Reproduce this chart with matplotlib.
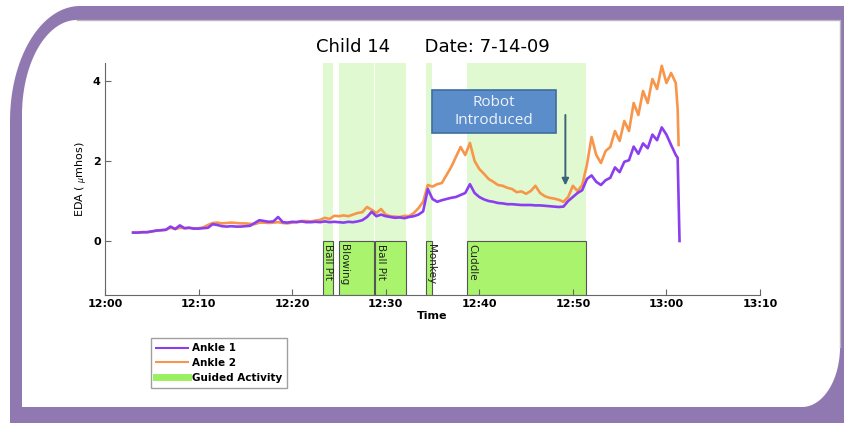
import numpy as np
import matplotlib
matplotlib.use("Agg")
import matplotlib.pyplot as plt
from matplotlib.patches import Polygon, Rectangle
from matplotlib.lines import Line2D

# EDA samples every 30 s, minutes after 12:00
t = np.arange(3.0, 61.01, 0.5)
ankle1 = [0.21, 0.21, 0.22, 0.22, 0.24, 0.26, 0.27, 0.28, 0.36, 0.30,
          0.39, 0.32, 0.33, 0.31, 0.31, 0.32, 0.33, 0.42, 0.40, 0.37,
          0.36, 0.37, 0.36, 0.36, 0.37, 0.38, 0.45, 0.52, 0.50, 0.48,
          0.49, 0.60, 0.47, 0.46, 0.48, 0.47, 0.49, 0.47, 0.47, 0.48,
          0.47, 0.49, 0.47, 0.48, 0.47, 0.46, 0.48, 0.47, 0.49, 0.52,
          0.60, 0.73, 0.62, 0.66, 0.62, 0.60, 0.58, 0.59, 0.57, 0.60,
          0.62, 0.66, 0.74, 1.30, 1.05, 0.98, 1.02, 1.05, 1.08, 1.10,
          1.15, 1.20, 1.42, 1.20, 1.10, 1.04, 1.00, 0.98, 0.95, 0.94,
          0.92, 0.92, 0.91, 0.90, 0.90, 0.90, 0.89, 0.89, 0.88, 0.87,
          0.86, 0.85, 0.86, 1.00, 1.10, 1.20, 1.27, 1.55, 1.64, 1.48,
          1.40, 1.52, 1.58, 1.84, 1.72, 1.98, 2.02, 2.36, 2.18, 2.44,
          2.32, 2.66, 2.52, 2.84, 2.66, 2.40, 2.15]
ankle2 = [0.21, 0.21, 0.22, 0.22, 0.24, 0.26, 0.27, 0.28, 0.33, 0.30,
          0.33, 0.32, 0.33, 0.31, 0.32, 0.34, 0.40, 0.45, 0.46, 0.44,
          0.45, 0.46, 0.45, 0.44, 0.44, 0.43, 0.42, 0.46, 0.46, 0.45,
          0.46, 0.47, 0.45, 0.44, 0.46, 0.48, 0.50, 0.50, 0.49, 0.51,
          0.53, 0.58, 0.55, 0.63, 0.62, 0.64, 0.62, 0.66, 0.70, 0.72,
          0.85, 0.78, 0.70, 0.80, 0.66, 0.62, 0.61, 0.60, 0.63, 0.62,
          0.70, 0.82, 0.98, 1.40, 1.36, 1.42, 1.45, 1.65, 1.85, 2.10,
          2.35, 2.15, 2.45, 2.00, 1.80, 1.68, 1.55, 1.48, 1.40, 1.38,
          1.33, 1.30, 1.22, 1.24, 1.18, 1.25, 1.38, 1.20, 1.12, 1.08,
          1.06, 1.03, 0.98, 1.10, 1.38, 1.25, 1.40, 1.90, 2.60, 2.15,
          1.95, 2.25, 2.35, 2.75, 2.50, 3.00, 2.75, 3.45, 3.15, 3.75,
          3.45, 4.05, 3.80, 4.38, 3.95, 4.20, 3.95]
# end of recording
t1_tail, ankle1_tail = [61.2, 61.4], [2.08, 0.0]
t2_tail, ankle2_tail = [61.2, 61.3], [3.30, 2.40]

act_names = ['Ball Pit', 'Blowing', 'Ball Pit', 'Monkey', 'Cuddle']
act_start = [23.3, 25.0, 28.9, 34.3, 38.7]
act_end = [24.4, 28.7, 32.2, 35.0, 51.4]

xticks = [0, 10, 20, 30, 40, 50, 60, 70]
xticklabels = ['12:00', '12:10', '12:20', '12:30', '12:40', '12:50', '13:00', '13:10']

purple = '#8a3ef0'
orange = '#f7964a'
light_green = '#e0f9d0'
dark_green = '#a9f46c'

fig = plt.figure(figsize=(8.45, 4.23), dpi=100)


def outline(x0, y0, x1, y1, tl=None, br=None, n=40):
    # rectangle in pixel coords (y down) with optional elliptical corners
    pts = []
    if tl:
        rx, ry = tl
        a = np.linspace(np.pi, 1.5 * np.pi, n)
        pts += list(zip(x0 + rx + rx * np.cos(a), y0 + ry + ry * np.sin(a)))
    else:
        pts.append((x0, y0))
    pts.append((x1, y0))
    if br:
        rx, ry = br
        a = np.linspace(0, 0.5 * np.pi, n)
        pts += list(zip(x1 - rx + rx * np.cos(a), y1 - ry + ry * np.sin(a)))
    else:
        pts.append((x1, y1))
    pts.append((x0, y1))
    return pts


# slide frame
bg = fig.add_axes([0, 0, 1, 1])
bg.set_xlim(0, 845)
bg.set_ylim(423, 0)
bg.axis('off')
bg.add_patch(Polygon(outline(10, 6, 880, 460, tl=(70, 115)), closed=True,
                     fc='#9079b0', ec='none'))
bg.add_patch(Polygon(outline(22, 20, 840, 407, tl=(55, 95), br=(38, 60)),
                     closed=True, fc='white', ec='none'))
bg.plot([77, 840, 840], [20.5, 20.5, 347], color='#b8b8b8', lw=1)

ax = fig.add_axes([105 / 845, 1 - 295 / 423, 655 / 845, 232 / 423])
ax.patch.set_alpha(0)
ylo, yhi = -1.35, 4.45

widths = [e - s for s, e in zip(act_start, act_end)]
ax.bar(act_start, yhi, width=widths, bottom=0, align='edge',
       color=light_green, edgecolor='none', zorder=0)
ax.bar(act_start, -ylo, width=widths, bottom=ylo, align='edge',
       color=dark_green, edgecolor='#555555', linewidth=0.8, zorder=1)
for name, s in zip(act_names, act_start):
    ax.text(s + 0.05, -0.08, name, rotation=-90, ha='left', va='top',
            fontsize=7.5, color='#222222', zorder=3)

ax.plot(list(t) + t2_tail, ankle2 + ankle2_tail, color=orange, lw=1.9, zorder=4)
ax.plot(list(t) + t1_tail, ankle1 + ankle1_tail, color=purple, lw=1.9, zorder=5)

# annotation box and arrow
ax.add_patch(Rectangle((35.0, 2.70), 13.2, 1.075, fc='#5b8dca', ec='#3f6d9e',
                       lw=1.2, zorder=6))
ax.text(41.6, 3.24, 'Robot\nIntroduced', ha='center', va='center',
        family='Open Sans', fontsize=11, color='#eef3fb', linespacing=1.25,
        zorder=7)
ax.annotate('', xy=(49.2, 1.32), xytext=(49.2, 3.22),
            arrowprops=dict(arrowstyle='-|>', color='#3c6478', lw=1.4,
                            mutation_scale=10), zorder=7)

ax.set_xlim(0, 70)
ax.set_ylim(ylo, yhi)
ax.set_xticks(xticks)
ax.set_xticklabels(xticklabels)
ax.set_yticks([0, 2, 4])
ax.tick_params(direction='in', length=4, width=0.8, color='#666666',
               labelsize=8, pad=3)
for lab in ax.get_xticklabels() + ax.get_yticklabels():
    lab.set_fontweight('bold')
for side in ['top', 'right']:
    ax.spines[side].set_visible(False)
for side in ['left', 'bottom']:
    ax.spines[side].set_color('#666666')
    ax.spines[side].set_linewidth(0.8)

ax.set_title('Child 14      Date: 7-14-09', fontsize=13, pad=8)
ax.set_xlabel('Time', fontsize=8, fontweight='bold', labelpad=1)
ax.set_ylabel(r'EDA ( $_\mu$mhos)', fontsize=8, labelpad=2)

handles = [Line2D([], [], color=purple, lw=1.5),
           Line2D([], [], color=orange, lw=1.5),
           Line2D([], [], color='#99f060', lw=5)]
fig.legend(handles, ['Ankle 1', 'Ankle 2', 'Guided Activity'],
           loc='upper left', bbox_to_anchor=(146 / 845, 1 - 333 / 423),
           prop={'size': 7.5, 'weight': 'bold'}, frameon=True, fancybox=False,
           edgecolor='#888888', handlelength=3, borderpad=0.5,
           labelspacing=0.45, handletextpad=0.4)

fig.savefig('out.png', dpi=100)
